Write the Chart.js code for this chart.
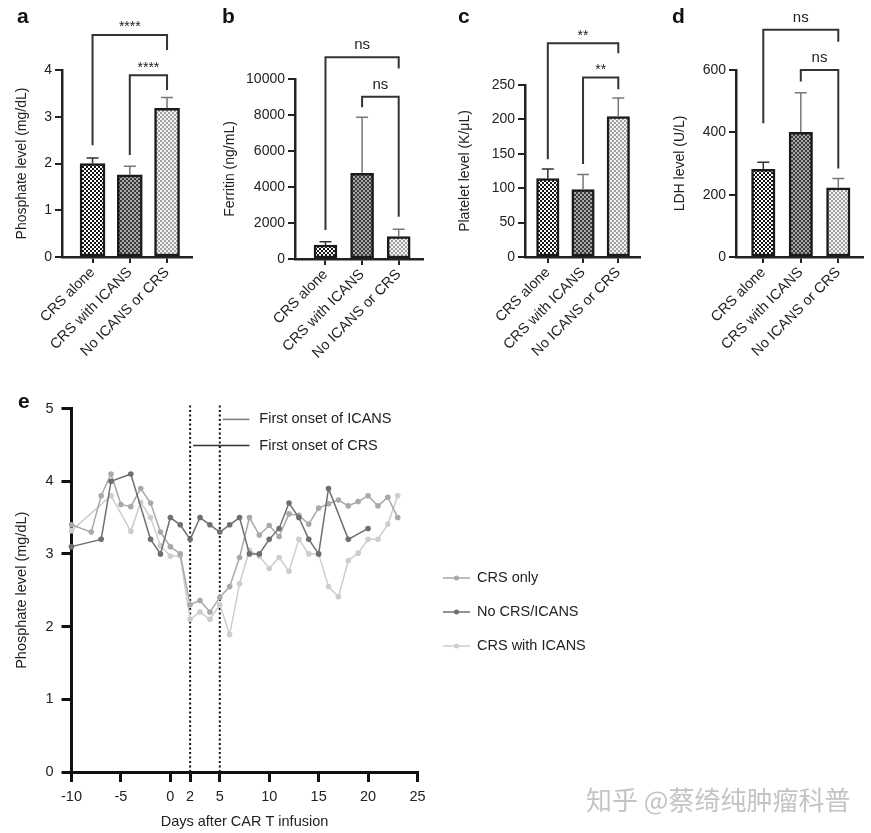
<!DOCTYPE html>
<html><head><meta charset="utf-8">
<script src="https://cdn.jsdelivr.net/npm/chart.js@4.4.1/dist/chart.umd.min.js"></script>
<style>
html,body{margin:0;padding:0;background:#fff;}
body{width:871px;height:833px;position:relative;overflow:hidden;font-family:"Liberation Sans",Arial,sans-serif;}
canvas{position:absolute;}
.lbl{position:absolute;font-weight:bold;font-size:21px;line-height:20px;color:#111;}
#wm{position:absolute;left:586px;top:784px;font-family:"Noto Sans CJK SC";font-size:26px;line-height:30px;color:#c4c4c4;white-space:nowrap;}
</style></head><body>
<canvas id="ca" width="215" height="385" style="left:0;top:0"></canvas>
<canvas id="cb" width="225" height="385" style="left:215px;top:0"></canvas>
<canvas id="cc" width="215" height="385" style="left:440px;top:0"></canvas>
<canvas id="cd" width="216" height="385" style="left:655px;top:0"></canvas>
<canvas id="ce" width="871" height="448" style="left:0;top:385px"></canvas>
<div class="lbl" style="left:17px;top:6px">a</div>
<div class="lbl" style="left:222px;top:6px">b</div>
<div class="lbl" style="left:458px;top:6px">c</div>
<div class="lbl" style="left:672px;top:6px">d</div>
<div class="lbl" style="left:18px;top:391px">e</div>
<div id="wm">知乎 @蔡绮纯肿瘤科普</div>
<script>
// ---------- data ----------
const catLabels = ['CRS alone', 'CRS with ICANS', 'No ICANS or CRS'];
const phosMean = [2.0, 1.76, 3.18];
const phosErr  = [2.12, 1.94, 3.41];
const ferrMean = [780, 4760, 1240];
const ferrErr  = [960, 7870, 1650];
const pltMean  = [114, 98, 204];
const pltErr   = [128, 120, 231];
const ldhMean  = [281, 400, 222];
const ldhErr   = [304, 527, 252];

const bracketsA = [{from:0,to:2,top:4.75,left:2.39,right:4.43,label:'****'},{from:1,to:2,top:3.89,left:2.18,right:3.57,label:'****'}];
const bracketsB = [{from:0,to:2,top:11205,left:1610,right:10590,label:'ns'},{from:1,to:2,top:9017,left:8430,right:2350,label:'ns'}];
const bracketsC = [{from:0,to:2,top:310.6,left:142,right:296,label:'**'},{from:1,to:2,top:261,left:135,right:244,label:'**'}];
const bracketsD = [{from:0,to:2,top:729,left:429,right:691,label:'ns'},{from:1,to:2,top:600,left:563,right:284,label:'ns'}];

const daysCRSOnly = [-10,-8,-7,-6,-5,-4,-3,-2,-1,0,1,2,3,4,5,6,7,8,9,10,11,12,13,14,15,16,17,18,19,20,21,22,23];
const valsCRSOnly = [3.4,3.3,3.8,4.1,3.68,3.65,3.9,3.7,3.3,3.1,3.0,2.3,2.36,2.2,2.4,2.55,2.95,3.5,3.26,3.39,3.24,3.55,3.53,3.41,3.63,3.69,3.74,3.66,3.72,3.8,3.66,3.78,3.5];
const daysNone = [-10,-7,-6,-4,-2,-1,0,1,2,3,4,5,6,7,8,9,10,11,12,13,14,15,16,18,20];
const valsNone = [3.1,3.2,4.0,4.1,3.2,3.0,3.5,3.4,3.2,3.5,3.4,3.3,3.4,3.5,3.0,3.0,3.2,3.35,3.7,3.5,3.2,3.0,3.9,3.2,3.35];
const daysICANS = [-10,-6,-4,-3,-2,-1,0,1,2,3,4,5,6,7,8,9,10,11,12,13,14,15,16,17,18,19,20,21,22,23];
const valsICANS = [3.32,3.8,3.31,3.71,3.5,3.11,2.97,2.97,2.1,2.2,2.1,2.3,1.89,2.59,3.05,2.97,2.8,2.95,2.76,3.2,3.0,3.0,2.55,2.41,2.91,3.01,3.2,3.2,3.41,3.8];
const xTicksE = [-10,-5,0,2,5,10,15,20,25];
const onsetDays = [2, 5];

// ---------- styles ----------
const FONT = '"Liberation Sans", Arial, sans-serif';
const INK = '#222';
function checker(c1, c2, s) {
  const cv = document.createElement('canvas'); cv.width = cv.height = 2*s;
  const g = cv.getContext('2d');
  g.fillStyle = c1; g.fillRect(0,0,2*s,2*s);
  g.fillStyle = c2; g.fillRect(0,0,s,s); g.fillRect(s,s,s,s);
  return g.createPattern(cv, 'repeat');
}
const barFills = [checker('#ffffff','#141414',2), checker('#a8a8a8','#3c3c3c',2), checker('#f2f2f2','#a0a0a0',2)];
const errColors = ['#333','#777','#777'];

const barExtras = {
  id: 'barExtras',
  afterDatasetsDraw(chart) {
    const o = chart.options.plugins.barExtras;
    const {ctx} = chart; const xs = chart.scales.x, ys = chart.scales.y;
    ctx.save();
    o.means.forEach((m, i) => {
      const x = xs.getPixelForValue(i);
      const y0 = ys.getPixelForValue(m), y1 = ys.getPixelForValue(o.errs[i]);
      ctx.strokeStyle = errColors[i]; ctx.lineWidth = 1.5;
      ctx.beginPath(); ctx.moveTo(x, y0); ctx.lineTo(x, y1);
      ctx.moveTo(x-6, y1); ctx.lineTo(x+6, y1); ctx.stroke();
    });
    ctx.strokeStyle = '#333'; ctx.lineWidth = 2; ctx.fillStyle = INK;
    ctx.textAlign = 'center'; ctx.textBaseline = 'alphabetic';
    o.brackets.forEach(b => {
      const xl = xs.getPixelForValue(b.from), xr = xs.getPixelForValue(b.to);
      const yt = ys.getPixelForValue(b.top), yl = ys.getPixelForValue(b.left), yr = ys.getPixelForValue(b.right);
      ctx.beginPath(); ctx.moveTo(xl, yl); ctx.lineTo(xl, yt); ctx.lineTo(xr, yt); ctx.lineTo(xr, yr); ctx.stroke();
      const star = b.label.indexOf('*') >= 0;
      ctx.font = (star ? '14px ' : '15px ') + FONT;
      ctx.fillText(b.label, (xl+xr)/2, yt - (star ? 3.5 : 8));
    });
    ctx.restore();
  }
};

function barChart(id, g, means, errs, brackets, yTitle) {
  const cv = document.getElementById(id);
  return new Chart(cv, {
    type: 'bar',
    data: { datasets: [{
      data: means.map((v, i) => ({x: i, y: v})),
      backgroundColor: barFills, borderColor: '#1a1a1a', borderWidth: 2.5, borderSkipped: false,
      barThickness: g.bw
    }]},
    options: {
      responsive: false, animation: false,
      layout: { padding: { left: 0, right: g.padR, top: g.top, bottom: 0 } },
      plugins: { legend: {display: false}, tooltip: {enabled: false},
        barExtras: { means, errs, brackets } },
      scales: {
        x: { type: 'linear', min: g.xmin, max: g.xmax, offset: false,
          afterBuildTicks: s => { s.ticks = [0,1,2].map(v => ({value: v})); },
          afterFit: s => { s.height = cv.height - g.bottom; },
          grid: { display: true, drawOnChartArea: false, drawTicks: true, tickLength: 6, color: INK, lineWidth: 2, offset: false },
          border: { display: true, color: INK, width: 2.5 },
          ticks: { autoSkip: false, maxRotation: 45, minRotation: 45, padding: 1, color: INK,
            font: { family: FONT, size: 14.5 }, callback: v => catLabels[v] } },
        y: { min: 0, max: g.ymax, afterFit: s => { s.width = g.axisX; },
          afterBuildTicks: s => { const t = []; for (let v = 0; v <= g.ymax + 1e-9; v += g.step) t.push({value: v}); s.ticks = t; },
          grid: { display: true, drawOnChartArea: false, drawTicks: true, tickLength: 7, color: INK, lineWidth: 2 },
          border: { display: true, color: INK, width: 2.5 },
          ticks: { padding: 3, color: INK, font: { family: FONT, size: 14 }, callback: v => String(v) },
          title: { display: true, text: yTitle, color: INK, font: { family: FONT, size: 14 }, padding: { top: g.tpad, bottom: 0 } } }
      }
    },
    plugins: [barExtras]
  });
}

barChart('ca', {bw:25, padR:23, top:70, bottom:257, xmin:-0.82, xmax:2.67, axisX:62, ymax:4, step:1, tpad:13.5}, phosMean, phosErr, bracketsA, 'Phosphate level (mg/dL)');
barChart('cb', {bw:23, padR:17, top:79, bottom:259, xmin:-0.833, xmax:2.664, axisX:80, ymax:10000, step:2000, tpad:6.5}, ferrMean, ferrErr, bracketsB, 'Ferritin (ng/mL)');
barChart('cc', {bw:22.5, padR:15, top:85, bottom:257, xmin:-0.647, xmax:2.616, axisX:85, ymax:250, step:50, tpad:16.5}, pltMean, pltErr, bracketsC, 'Platelet level (K/\u03bcL)');
barChart('cd', {bw:23.5, padR:8, top:70, bottom:257, xmin:-0.728, xmax:2.659, axisX:81, ymax:600, step:200, tpad:16.5}, ldhMean, ldhErr, bracketsD, 'LDH level (U/L)');

// ---------- panel e ----------
const lineStyles = [
  {label: 'CRS only', color: '#a9a9a9'},
  {label: 'No CRS/ICANS', color: '#6f6f6f'},
  {label: 'CRS with ICANS', color: '#cdcdcd'}
];
const eExtras = {
  id: 'eExtras',
  beforeDatasetsDraw(chart) {
    const {ctx, chartArea} = chart; const xs = chart.scales.x;
    ctx.save(); ctx.strokeStyle = '#111'; ctx.lineWidth = 2; ctx.setLineDash([2, 2.5]);
    onsetDays.forEach(d => { const x = xs.getPixelForValue(d);
      ctx.beginPath(); ctx.moveTo(x, chartArea.top - 3); ctx.lineTo(x, chartArea.bottom); ctx.stroke(); });
    ctx.restore();
  },
  afterDraw(chart) {
    const {ctx} = chart; const xs = chart.scales.x, ys = chart.scales.y;
    ctx.save();
    const notes = [{day: onsetDays[1], y: 4.85, text: 'First onset of ICANS', color: '#777'},
                   {day: onsetDays[0], y: 4.49, text: 'First onset of CRS', color: '#333'}];
    ctx.font = '14.5px ' + FONT; ctx.textBaseline = 'middle'; ctx.textAlign = 'left';
    notes.forEach(n => {
      const y = ys.getPixelForValue(n.y);
      ctx.strokeStyle = n.color; ctx.lineWidth = 1.5;
      ctx.beginPath(); ctx.moveTo(xs.getPixelForValue(n.day) + 3, y); ctx.lineTo(xs.getPixelForValue(8), y); ctx.stroke();
      ctx.fillStyle = INK; ctx.fillText(n.text, xs.getPixelForValue(9), y);
    });
    ctx.font = '14.5px ' + FONT;
    lineStyles.forEach((s, i) => {
      const y = 193 + i * 34;
      ctx.strokeStyle = s.color; ctx.lineWidth = 1.5;
      ctx.beginPath(); ctx.moveTo(443, y); ctx.lineTo(470, y); ctx.stroke();
      ctx.fillStyle = s.color; ctx.beginPath(); ctx.arc(456.5, y, 2.5, 0, Math.PI*2); ctx.fill();
      ctx.fillStyle = INK; ctx.fillText(s.label, 477, y);
    });
    ctx.restore();
  }
};
function series(days, vals, st, order) {
  return { label: st.label, data: days.map((d, i) => ({x: d, y: vals[i]})),
    borderColor: st.color, backgroundColor: st.color, pointBackgroundColor: st.color,
    borderWidth: 1.5, pointRadius: 2.8, pointBorderWidth: 0, tension: 0, clip: false, order };
}
const ce = document.getElementById('ce');
new Chart(ce, {
  type: 'line',
  data: { datasets: [
    series(daysCRSOnly, valsCRSOnly, lineStyles[0], 1),
    series(daysNone, valsNone, lineStyles[1], 0),
    series(daysICANS, valsICANS, lineStyles[2], 2)
  ]},
  options: {
    responsive: false, animation: false,
    layout: { padding: { left: 0, right: 453.5, top: 23.5, bottom: 0 } },
    plugins: { legend: {display: false}, tooltip: {enabled: false} },
    scales: {
      x: { type: 'linear', min: -10, max: 25,
        afterBuildTicks: s => { s.ticks = xTicksE.map(v => ({value: v})); },
        afterFit: s => { s.height = 61; },
        grid: { display: true, drawOnChartArea: false, drawTicks: true, tickLength: 10, color: '#111', lineWidth: 3 },
        border: { display: true, color: '#111', width: 3 },
        ticks: { autoSkip: false, maxRotation: 0, padding: 6, color: INK, font: { family: FONT, size: 14.5 } },
        title: { display: true, text: 'Days after CAR T infusion', color: INK, font: { family: FONT, size: 14.5 }, padding: { top: 0, bottom: 2 } } },
      y: { min: 0, max: 5,
        afterBuildTicks: s => { s.ticks = [0,1,2,3,4,5].map(v => ({value: v})); },
        afterFit: s => { s.width = 71.5; },
        grid: { display: true, drawOnChartArea: false, drawTicks: true, tickLength: 10, color: '#111', lineWidth: 3 },
        border: { display: true, color: '#111', width: 3 },
        ticks: { padding: 8, color: INK, font: { family: FONT, size: 14.5 } },
        title: { display: true, text: 'Phosphate level (mg/dL)', color: INK, font: { family: FONT, size: 14.5 }, padding: { top: 13.5, bottom: 0 } } }
    }
  },
  plugins: [eExtras]
});
</script>
</body></html>
